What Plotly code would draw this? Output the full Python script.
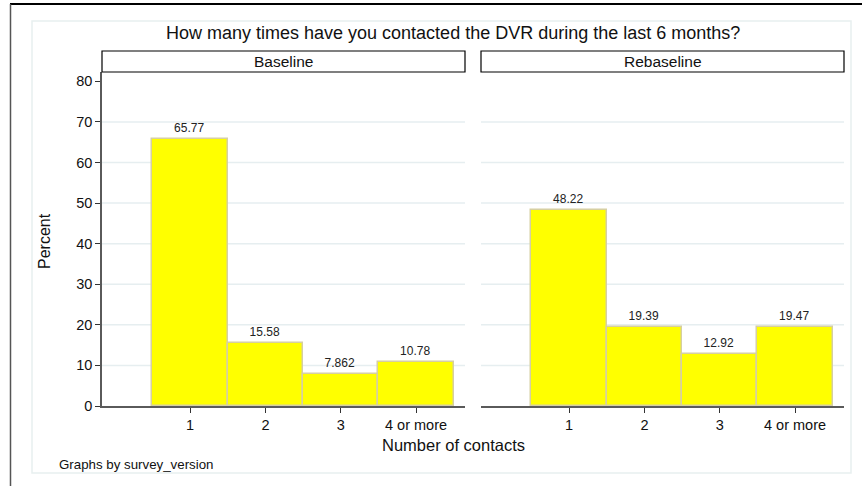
import plotly.graph_objs as go

# Data
categories = [1, 2, 3, 4]
tick_labels = ['1', '2', '3', '4 or more']
baseline = [65.77, 15.58, 7.862, 10.78]
rebaseline = [48.22, 19.39, 12.92, 19.47]
panels = ['Baseline', 'Rebaseline']
grid_values = [10, 20, 30, 40, 50, 60, 70]

W, H = 862, 486
FONT = 'Arial, Liberation Sans, sans-serif'


def px(x):
    return x / W


def py(y):
    return 1 - y / H


bar_style = dict(marker=dict(color='#ffff00', line=dict(color='#d6cfa2', width=1.5)),
                 width=1.0, textposition='outside', cliponaxis=False,
                 textfont=dict(size=12, color='#222'), showlegend=False, hoverinfo='x+y')

trace1 = go.Bar(x=categories, y=baseline, text=[str(v) for v in baseline],
                xaxis='x', yaxis='y', **bar_style)
trace2 = go.Bar(x=categories, y=rebaseline, text=[str(v) for v in rebaseline],
                xaxis='x2', yaxis='y2', **bar_style)

xax = dict(range=[-0.17, 4.65], tickvals=categories, ticktext=tick_labels,
           ticks='outside', ticklen=5, tickcolor='#333', showline=True,
           linecolor='#5a5a5a', linewidth=1.5, showgrid=False, zeroline=False,
           tickfont=dict(size=14.5, color='#111', family=FONT))
yax = dict(range=[0, 82.3], showgrid=False, zeroline=False,
           domain=[py(406), py(72)])

# the page renders the figure a little shorter than asked, so pad the height
layout = go.Layout(
    width=W, height=H + 8, autosize=False, margin=dict(l=0, r=0, t=0, b=0),
    paper_bgcolor='white', plot_bgcolor='white',
    font=dict(family=FONT, color='#111'),
    bargap=0,
    xaxis=dict(xax, domain=[px(102), px(465)], anchor='y'),
    xaxis2=dict(xax, domain=[px(481), px(844)], anchor='y2'),
    yaxis=dict(yax, anchor='x', tickvals=[0, 10, 20, 30, 40, 50, 60, 70, 80],
               ticks='outside', ticklen=5, tickcolor='#333', showline=True,
               linecolor='#5a5a5a', linewidth=1.5,
               tickfont=dict(size=14.5, color='#111')),
    yaxis2=dict(yax, anchor='x2', showticklabels=False),
)

shapes = []
# outer frame pieces
shapes.append(dict(type='line', xref='paper', yref='paper', x0=px(10), x1=1,
                   y0=py(4), y1=py(4), line=dict(color='black', width=2)))
shapes.append(dict(type='line', xref='paper', yref='paper', x0=px(10.5), x1=px(10.5),
                   y0=py(4), y1=0, line=dict(color='#555', width=1.5)))
shapes.append(dict(type='rect', xref='paper', yref='paper', x0=px(32), x1=px(851),
                   y0=py(473), y1=py(21), line=dict(color='#e8f0f0', width=1.5)))
# gridlines
for ax_x, ax_y in [('x', 'y'), ('x2', 'y2')]:
    for g in grid_values:
        shapes.append(dict(type='line', xref=ax_x + ' domain', yref=ax_y, x0=0, x1=1,
                           y0=g, y1=g, layer='below',
                           line=dict(color='#e6eef0', width=1.5)))
# panel strips
for x0, x1 in [(102, 465), (481, 844)]:
    shapes.append(dict(type='rect', xref='paper', yref='paper', x0=px(x0), x1=px(x1),
                       y0=py(72), y1=py(51), fillcolor='white',
                       line=dict(color='black', width=1.2)))

annotations = []
for name, (x0, x1) in zip(panels, [(102, 465), (481, 844)]):
    annotations.append(dict(text=name, xref='paper', yref='paper', x=px((x0 + x1) / 2),
                            y=py(61.5), xanchor='center', yanchor='middle', showarrow=False,
                            font=dict(size=15.5, color='#111')))
annotations += [
    dict(text='How many times have you contacted the DVR during the last 6 months?',
         xref='paper', yref='paper', x=px(453), y=py(33), xanchor='center', yanchor='middle',
         showarrow=False, font=dict(size=18, color='#111')),
    dict(text='Percent', xref='paper', yref='paper', x=px(44), y=py(241), textangle=-90,
         xanchor='center', yanchor='middle', showarrow=False, font=dict(size=16, color='#111')),
    dict(text='Number of contacts', xref='paper', yref='paper', x=px(453), y=py(445),
         xanchor='center', yanchor='middle', showarrow=False, font=dict(size=16.5, color='#111')),
    dict(text='Graphs by survey_version', xref='paper', yref='paper', x=px(57), y=py(464),
         xanchor='left', yanchor='middle', showarrow=False, font=dict(size=13.3, color='#111')),
]

layout.update(shapes=shapes, annotations=annotations)

fig = go.Figure(data=[trace1, trace2], layout=layout)
fig.write_html('out.html', config={'responsive': False, 'displayModeBar': False},
               post_script="document.body.style.margin='0';")
